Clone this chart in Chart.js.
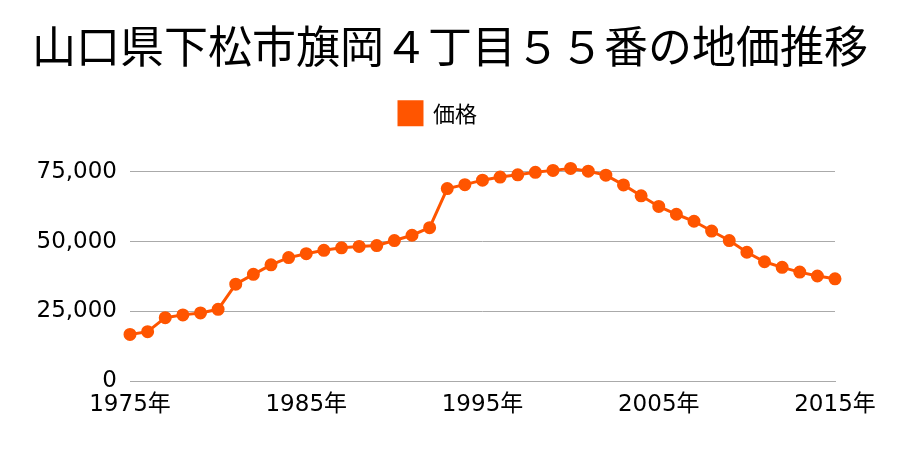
<!DOCTYPE html>
<html lang="ja">
<head>
    <meta charset="UTF-8">
    <title>地価推移</title>
    <script src="https://cdn.jsdelivr.net/npm/chart.js"></script>
    <style>
        html, body { margin: 0; padding: 0; background: #fff; }
        #wrap { width: 900px; height: 450px; }
    </style>
</head>
<body>
    <div id="wrap"><canvas id="priceChart" width="900" height="450"></canvas></div>
    <script>
        // 年と価格 (円/m2)
        var years = [];
        for (var y = 1975; y <= 2015; y++) years.push(y + "年");
        var prices = [
            16800, 17800, 22800, 23800, 24500, 25800, 34800, 38300, 41700, 44300,
            45700, 46900, 47800, 48300, 48600, 50400, 52300, 55000, 69000, 70400,
            72000, 73100, 73900, 74800, 75500, 76200, 75200, 73800, 70300, 66400,
            62600, 59800, 57300, 53800, 50400, 46200, 42800, 40800, 39100, 37700,
            36700
        ];
        var yTicks = [0, 25000, 50000, 75000];

        var cjk = '"Noto Sans CJK JP", sans-serif';
        var num = '"DejaVu Sans", "Noto Sans CJK JP", sans-serif';
        var orange = "#ff5500";

        // extra room under the legend, and nudge it a little to the left
        var legendTweak = {
            id: "legendTweak",
            beforeInit: function (chart) {
                var fit = chart.legend.fit;
                chart.legend.fit = function () {
                    fit.call(this);
                    this.height += 23;
                };
            },
            beforeDraw: function (chart) {
                if (!chart.legend._shifted) {
                    chart.legend.left -= 12;
                    chart.legend.right -= 12;
                    chart.legend._shifted = true;
                }
            },
            afterLayout: function (chart) {
                chart.legend._shifted = false;
            }
        };

        new Chart(document.getElementById("priceChart"), {
            type: "line",
            data: {
                labels: years,
                datasets: [{
                    label: "価格",
                    data: prices,
                    borderColor: orange,
                    backgroundColor: orange,
                    borderWidth: 3,
                    pointRadius: 5,
                    pointHoverRadius: 5,
                    tension: 0
                }]
            },
            plugins: [legendTweak],
            options: {
                responsive: false,
                animation: false,
                layout: { padding: { left: 0, right: 0, top: 0, bottom: 21 } },
                plugins: {
                    title: {
                        display: true,
                        text: "山口県下松市旗岡４丁目５５番の地価推移",
                        color: "#000",
                        font: { family: cjk, size: 44, weight: "normal" },
                        padding: { top: 20, bottom: 19 }
                    },
                    legend: {
                        labels: {
                            color: "#000",
                            font: { family: cjk, size: 22 },
                            boxWidth: 23,
                            boxHeight: 23,
                            padding: 10
                        }
                    },
                    tooltip: { enabled: false }
                },
                scales: {
                    x: {
                        offset: false,
                        grid: { display: false, drawTicks: false },
                        border: { color: "#aaa" },
                        ticks: {
                            autoSkip: false,
                            maxRotation: 0,
                            color: "#000",
                            font: { family: num, size: 23 },
                            padding: 10,
                            callback: function (v, i) {
                                return i % 10 === 0 ? years[i] : null;
                            }
                        }
                    },
                    y: {
                        min: 0,
                        max: 80000,
                        afterFit: function (s) { s.width = 130; },
                        afterBuildTicks: function (s) {
                            s.ticks = yTicks.map(function (v) { return { value: v }; });
                        },
                        grid: { color: "#aaa", drawTicks: false },
                        border: { display: false },
                        ticks: {
                            color: "#000",
                            padding: 13,
                            font: { family: num, size: 23 },
                            callback: function (v) { return v.toLocaleString("en-US"); }
                        }
                    },
                    // empty right axis, only keeps room for the last year label
                    yRight: {
                        position: "right",
                        min: 0,
                        max: 80000,
                        afterFit: function (s) { s.width = 65; },
                        grid: { display: false },
                        border: { display: false },
                        ticks: { display: false }
                    }
                }
            }
        });
    </script>
</body>
</html>
